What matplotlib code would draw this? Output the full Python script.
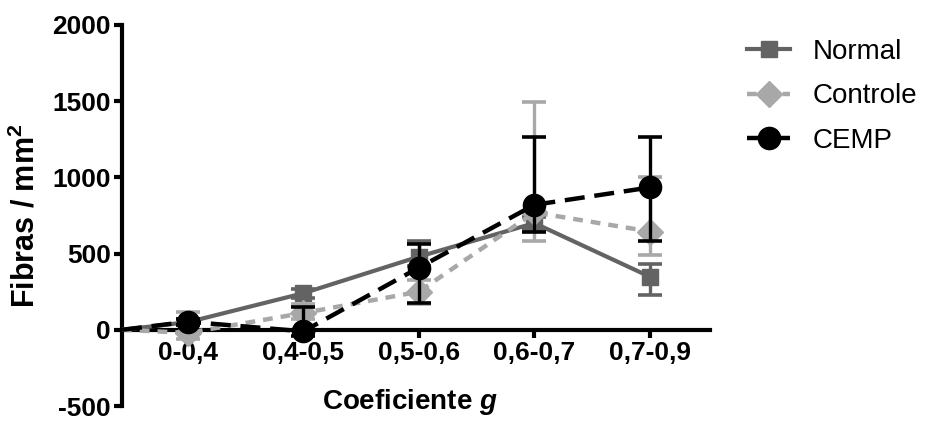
import matplotlib
matplotlib.use("Agg")
import matplotlib.pyplot as plt
import numpy as np


plt.rcParams["font.family"] = ["Liberation Sans", "DejaVu Sans"]
plt.rcParams["mathtext.fontset"] = "custom"
plt.rcParams["mathtext.rm"] = "Liberation Sans:bold"
plt.rcParams["mathtext.bf"] = "Liberation Sans:bold"
plt.rcParams["mathtext.it"] = "Liberation Sans:italic:bold"
plt.rcParams["mathtext.bfit"] = "Liberation Sans:italic:bold"

categorias = ["0-0,4", "0,4-0,5", "0,5-0,6", "0,6-0,7", "0,7-0,9"]

# medias
normal = [50, 240, 480, 700, 348]
controle = [-20, 110, 250, 770, 645]
cemp = [53, -10, 408, 820, 934]

# erros (abaixo, acima)
normal_err_baixo = [20, 30, 60, 40, 118]
normal_err_cima = [20, 30, 105, 40, 86]
controle_err_baixo = [40, 40, 80, 190, 152]
controle_err_cima = [138, 60, 80, 723, 355]
cemp_err_baixo = [20, 30, 230, 180, 354]
cemp_err_cima = [20, 160, 152, 443, 330]

# origem das linhas (0, 0)
origem = 0

yticks = [-500, 0, 500, 1000, 1500, 2000]

cor_normal = "#636363"
cor_controle = "#a8a8a8"
cor_cemp = "#000000"

x = np.arange(1, len(categorias) + 1)
x0 = 0.43


def serie(ax, valores, baixo, cima, cor, marcador, ms, dashes, lw, nome, z):

    xs = np.concatenate([[x0], x])
    ys = np.concatenate([[origem], valores])

    linha, = ax.plot(xs, ys, color=cor, lw=lw, zorder=z, solid_capstyle="butt")
    if dashes is not None:
        linha.set_dashes(dashes)

    ax.errorbar(x, valores, yerr=[baixo, cima], fmt="none", ecolor=cor,
                elinewidth=2.4, capsize=8.5, capthick=2.6, zorder=z)

    ax.plot(x, valores, linestyle="none", marker=marcador, ms=ms,
            color=cor, mec=cor, zorder=z + 0.5)

    # entrada da legenda
    h, = ax.plot([], [], color=cor, lw=lw, marker=marcador, ms=ms, label=nome)
    if dashes is not None:
        h.set_dashes(dashes)
    return h


fig = plt.figure(figsize=(9.33, 4.21), dpi=100)
ax = fig.add_axes([122 / 933, 15 / 421, (710 - 122) / 933, 381 / 421])

h1 = serie(ax, normal, normal_err_baixo, normal_err_cima, cor_normal,
           "s", 11.5, None, 3.0, "Normal", 3)
h2 = serie(ax, controle, controle_err_baixo, controle_err_cima, cor_controle,
           "D", 13.5, (2.2, 1.8), 3.2, "Controle", 4)
h3 = serie(ax, cemp, cemp_err_baixo, cemp_err_cima, cor_cemp,
           "o", 16, (4.5, 2.2), 3.2, "CEMP", 5)

ax.set_xlim(x0, 5.52)
ax.set_ylim(-500, 2000)

ax.spines["top"].set_visible(False)
ax.spines["right"].set_visible(False)
ax.spines["bottom"].set_position(("data", 0))
ax.spines["left"].set_linewidth(3)
ax.spines["bottom"].set_linewidth(3)

ax.set_yticks(yticks)
ax.set_yticklabels([str(v) for v in yticks])
ax.set_xticks(x)
ax.set_xticklabels(categorias)

ax.tick_params(axis="both", direction="out", length=6, width=3, labelsize=19, pad=2)
for t in ax.get_xticklabels() + ax.get_yticklabels():
    t.set_fontweight("bold")

ax.set_ylabel(r"Fibras / mm$^{\mathbf{2}}$", fontsize=22, fontweight="bold", labelpad=8)
ax.set_xlabel(r"Coeficiente $\mathbfit{g}$", fontsize=20, fontweight="bold")
ax.xaxis.set_label_coords(0.49, 0.01)
ax.xaxis.label.set_va("center")

fig.legend(handles=[h1, h2, h3], loc="upper left", bbox_to_anchor=(722 / 933, 1 - 14 / 421),
           frameon=False, fontsize=20, handlelength=1.55, handletextpad=0.8,
           labelspacing=0.66, borderpad=0.4)

fig.savefig("out.png", dpi=100)
